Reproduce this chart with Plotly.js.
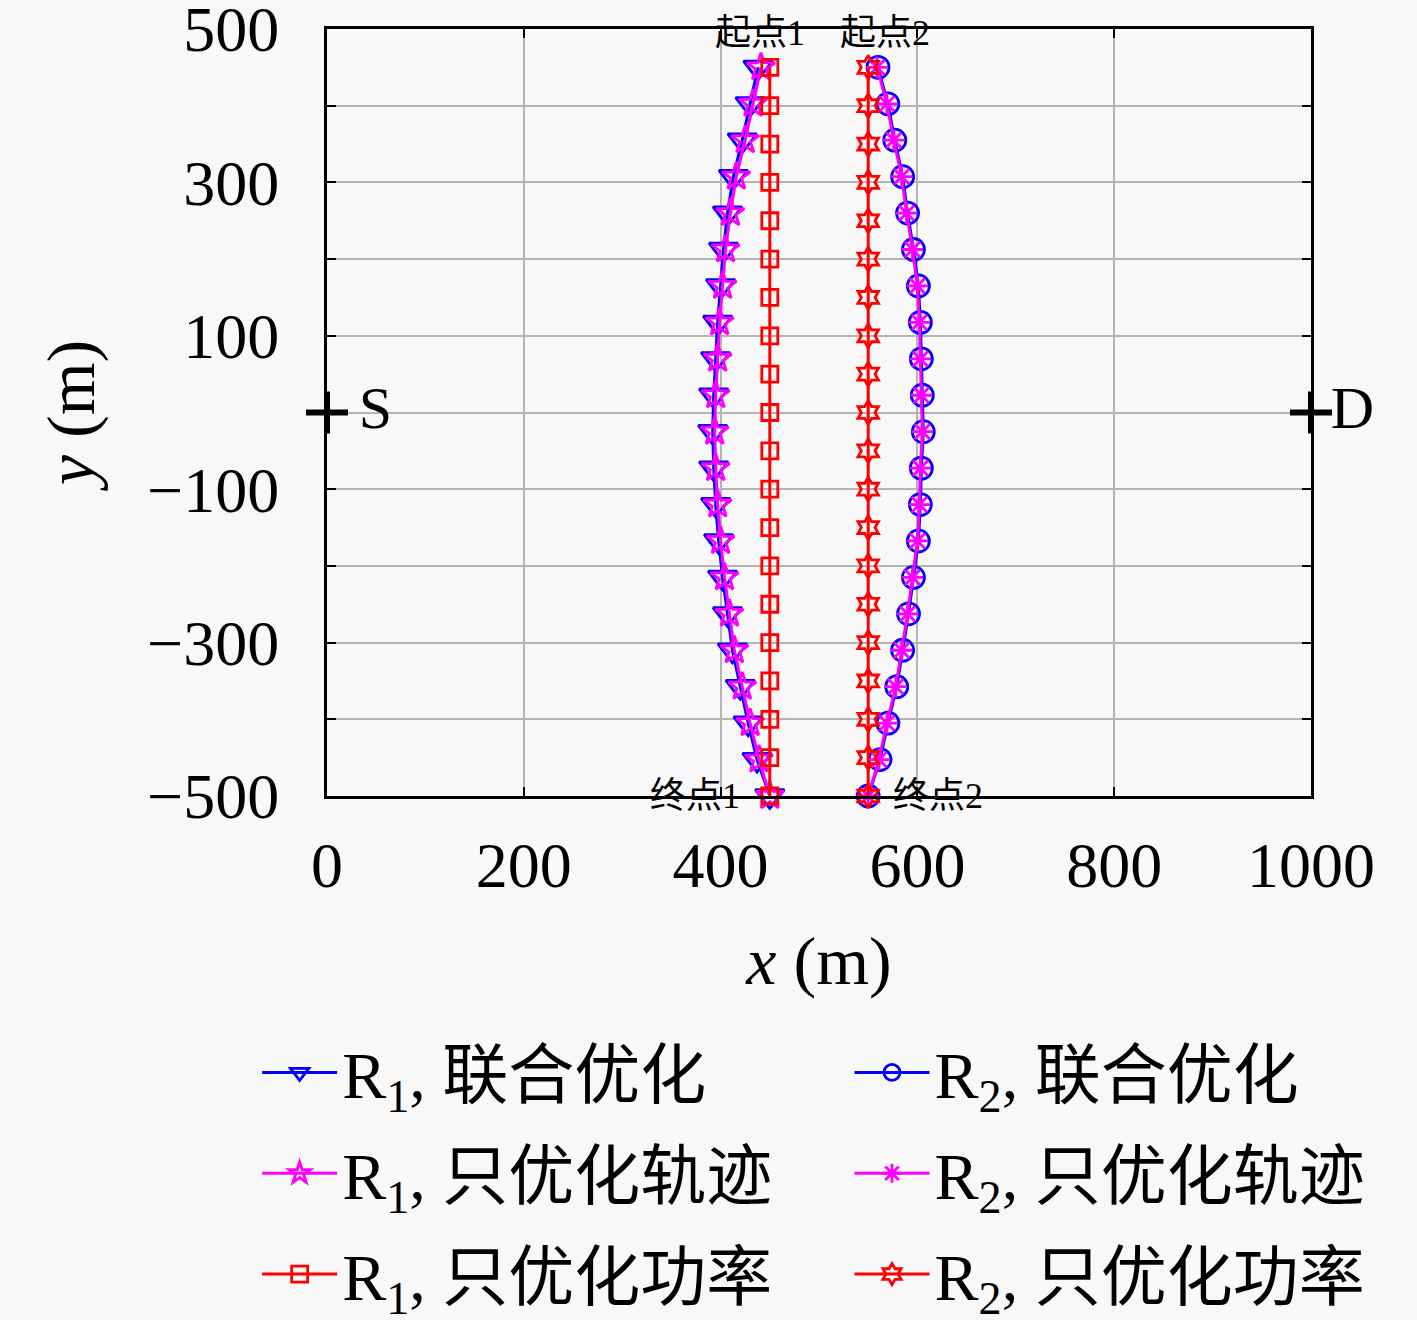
<html>
<head>
    <meta charset="UTF-8">
    <script src="https://cdn.plot.ly/plotly-3.0.1.min.js"></script>
</head>
<body style="margin: 0; background-color: #f8f8f8;">
    <div id="plot" style="width: 1417px; height: 1320px;"></div>

    <script>
        // y positions of the 21 trajectory samples (joint / trajectory-only)
        const ySamples = [450, 402.5, 355, 307.5, 260, 212.5, 165, 117.5, 70, 22.5, -25,
            -72.5, -120, -167.5, -215, -262.5, -310, -357.5, -405, -452.5, -500];
        // y positions of the power-only straight paths
        const yPower = [450, 400, 350, 300, 250, 200, 150, 100, 50, 0, -50,
            -100, -150, -200, -250, -300, -350, -400, -450, -500];

        const r1Joint = [438, 430, 422, 413, 407, 403, 400, 397, 395, 393, 392,
            393, 395, 398, 402, 407, 412, 420, 428, 437, 450];
        const r1Traj = [441, 433, 425, 416, 410, 405, 402, 399, 397, 395, 394,
            395, 397, 400, 404, 409, 414, 422, 430, 439, 450];
        const r1Power = [450, 450, 450, 450, 450, 450, 450, 450, 450, 450,
            450, 450, 450, 450, 450, 450, 450, 450, 450, 450];

        const r2Joint = [560, 570, 577, 585, 590, 596, 601, 603, 604, 605, 606,
            604, 603, 601, 596, 591, 585, 579, 570, 562, 550];
        const r2Traj = [559, 569, 576, 584, 589, 595, 600, 602, 603, 604, 605,
            603, 602, 600, 595, 590, 584, 578, 569, 561, 550];
        const r2Power = [550, 550, 550, 550, 550, 550, 550, 550, 550, 550,
            550, 550, 550, 550, 550, 550, 550, 550, 550, 550];

        const nodeX = [0, 1000];
        const nodeY = [0, 0];
        const nodeNames = ['\u2009S', 'D'];

        const yTicks = [-500, -300, -100, 100, 300, 500];
        const yMinor = [-400, -200, 0, 200, 400];
        const xTicks = [0, 200, 400, 600, 800, 1000];

        const names = [
            'R<sub>1</sub>, 联合优化', 'R<sub>1</sub>, 只优化轨迹', 'R<sub>1</sub>, 只优化功率',
            'R<sub>2</sub>, 联合优化', 'R<sub>2</sub>, 只优化轨迹', 'R<sub>2</sub>, 只优化功率'
        ];

        const serif = 'Liberation Serif, DejaVu Serif, Noto Sans CJK SC, serif';

        function path(x, y, name, legend, color, symbol, size) {
            return {
                x: x, y: y, name: name, type: 'scatter', mode: 'lines+markers',
                legend: legend, legendgroup: name,
                line: { color: color, width: 3 },
                marker: { symbol: symbol, size: size, color: color, line: { color: color, width: 2.8 } },
                cliponaxis: false
            };
        }

        const data = [
            path(r1Joint, ySamples, names[0], 'legend', '#0000ff', 'triangle-down-open', 25),
            path(r2Joint, ySamples, names[3], 'legend2', '#0000ff', 'circle-open', 22),
            path(r1Traj, ySamples, names[1], 'legend', '#ff00ff', 'star-open', 21),
            path(r2Traj, ySamples, names[4], 'legend2', '#ff00ff', 'asterisk-open', 18),
            path(r1Power, yPower, names[2], 'legend', '#ff0000', 'square-open', 16),
            path(r2Power, yPower, names[5], 'legend2', '#ff0000', 'hexagram-open', 18),
            {
                x: nodeX, y: nodeY, text: nodeNames, type: 'scatter', mode: 'markers+text',
                textposition: 'middle right', showlegend: false, cliponaxis: false,
                marker: { symbol: 'cross-thin', size: 30, line: { color: '#000000', width: 6 } },
                textfont: { family: serif, size: 60, color: '#000000' }
            }
        ];

        const annoFont = { family: serif, size: 36, color: '#000000' };
        const legendFont = { family: serif, size: 66, color: '#000000' };
        const layout = {
            width: 1417,
            height: 1320,
            paper_bgcolor: '#f8f8f8',
            plot_bgcolor: '#f8f8f8',
            margin: { l: 327, r: 106, t: 29, b: 524, autoexpand: false },
            font: { family: serif, size: 64, color: '#000000' },
            xaxis: {
                range: [0, 1000], tickmode: 'array', tickvals: xTicks,
                showline: true, linecolor: '#000000', linewidth: 3, mirror: 'allticks',
                ticks: 'inside', ticklen: 9, tickwidth: 2, tickcolor: '#000000',
                showgrid: true, gridcolor: '#b4b4b4', gridwidth: 2, zeroline: false,
                ticklabelstandoff: 11, ticklabeloverflow: 'allow',
                title: { text: '<i>x</i> (m)', font: { family: serif, size: 68 }, standoff: 37 }
            },
            yaxis: {
                range: [-500, 500], tickmode: 'array', tickvals: yTicks,
                showline: true, linecolor: '#000000', linewidth: 3, mirror: 'allticks',
                ticks: 'inside', ticklen: 9, tickwidth: 2, tickcolor: '#000000',
                showgrid: true, gridcolor: '#b4b4b4', gridwidth: 2, zeroline: false,
                ticklabelstandoff: 32, ticklabeloverflow: 'allow',
                minor: {
                    tickvals: yMinor, ticks: 'inside', ticklen: 9, tickwidth: 2,
                    tickcolor: '#000000', showgrid: true, gridcolor: '#b4b4b4', gridwidth: 2
                },
                title: { text: '<i>y</i> (m)', font: { family: serif, size: 68 }, standoff: 31 }
            },
            legend: {
                x: -0.071, xanchor: 'left', y: -0.296, yanchor: 'top',
                bgcolor: 'rgba(0,0,0,0)', font: legendFont, itemwidth: 75,
                traceorder: 'grouped', tracegroupgap: 12
            },
            legend2: {
                x: 0.531, xanchor: 'left', y: -0.296, yanchor: 'top',
                bgcolor: 'rgba(0,0,0,0)', font: legendFont, itemwidth: 75,
                traceorder: 'grouped', tracegroupgap: 12
            },
            annotations: [
                { x: 440, y: 495, text: '起点1', showarrow: false, font: annoFont },
                { x: 567, y: 495, text: '起点2', showarrow: false, font: annoFont },
                { x: 374, y: -500, text: '终点1', showarrow: false, font: annoFont },
                { x: 621, y: -500, text: '终点2', showarrow: false, font: annoFont }
            ],
            showlegend: true
        };

        Plotly.newPlot('plot', data, layout, { staticPlot: true });
    </script>
</body>
</html>
